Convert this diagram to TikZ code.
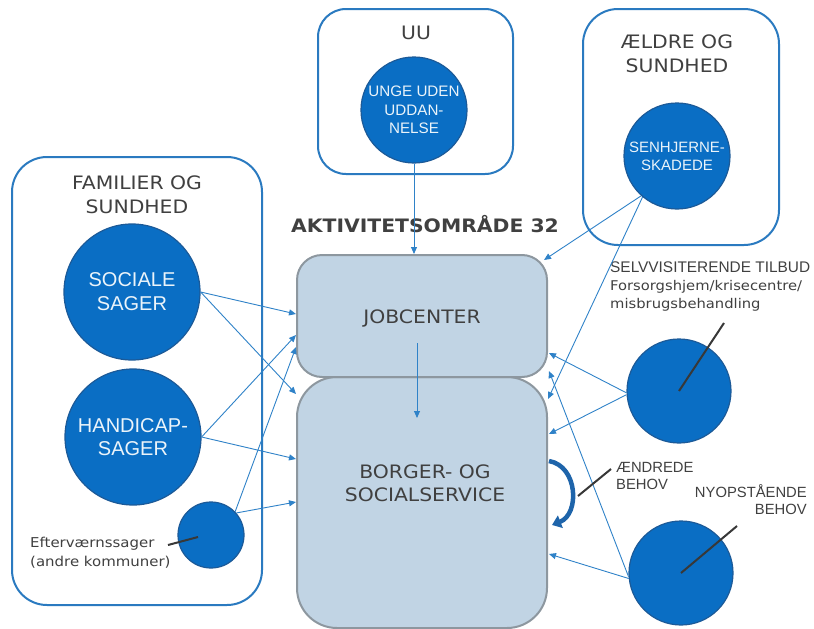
\documentclass[tikz,border=0pt]{standalone}
\usepackage{fontspec}
\setmainfont{DejaVu Sans}[FakeStretch=1.1]
\newfontfamily\arialf{Liberation Sans}
\usetikzlibrary{arrows.meta,calc}
\definecolor{circfill}{HTML}{0A6EC4}
\definecolor{circdraw}{HTML}{1C5A98}
\definecolor{grpline}{HTML}{2A7AC0}
\definecolor{arrline}{HTML}{2F82C8}
\definecolor{boxfill}{HTML}{C1D4E4}
\definecolor{boxline}{HTML}{8D979F}
\definecolor{txt}{HTML}{404040}
\definecolor{bendcol}{HTML}{1E64AA}
\begin{document}
\begin{tikzpicture}[x=1pt,y=-1pt,
 grpbox/.style={draw=grpline, line width=2pt, fill=white, inner sep=0pt, rectangle},
 circ/.style={circle, draw=circdraw, line width=1.2pt, fill=circfill, inner sep=0pt,
   text=white!92!circfill, align=center},
 unitbox/.style={rectangle, draw=boxline, line width=2pt, fill=boxfill, inner sep=0pt},
 lbl/.style={text=txt, align=center, inner sep=0pt},
 flow/.style={draw=arrline, line width=0.9pt, -{Triangle[length=7pt,width=6pt]}},
 leader/.style={draw=black!78, line width=2pt},
]
\useasboundingbox (0,0) rectangle (814,629);

% group boxes
\node[grpbox, rounded corners=35pt, minimum width=250pt, minimum height=448pt] (fam) at (137,381) {};
\node[grpbox, rounded corners=28pt, minimum width=195pt, minimum height=165pt] (uu) at (415.5,91.5) {};
\node[grpbox, rounded corners=35pt, minimum width=196pt, minimum height=236pt] (ael) at (681,127) {};

\node[lbl, font=\fontsize{18.5}{24}\selectfont] (famT) at (137,195) {FAMILIER OG\\SUNDHED};
\node[lbl, font=\fontsize{18.5}{24}\selectfont] (uuT) at (416,33) {UU};
\node[lbl, font=\fontsize{18.5}{24}\selectfont] (aelT) at (677,54) {ÆLDRE OG\\SUNDHED};

% circles
\node[circ, minimum size=136pt, font=\arialf\fontsize{20}{24}\selectfont] (soc) at (132,292) {SOCIALE\\SAGER};
\node[circ, minimum size=136pt, font=\arialf\fontsize{20}{23}\selectfont] (hand) at (133,437) {HANDICAP-\\SAGER};
\node[circ, minimum size=66pt] (eft) at (211,535) {};
\node[circ, minimum size=106pt, font=\arialf\fontsize{15.2}{18.5}\selectfont] (unge) at (414,110) {UNGE UDEN\\UDDAN-\\NELSE};
\node[circ, minimum size=106pt, font=\arialf\fontsize{15}{18}\selectfont] (senh) at (677,156) {SENHJERNE-\\SKADEDE};
\node[circ, minimum size=104pt] (selv) at (679,391) {};
\node[circ, minimum size=104pt] (nyop) at (681,573) {};

% central units
\node[unitbox, rounded corners=40pt, minimum width=250pt, minimum height=251pt] (borg) at (422,502.5) {};
\node[unitbox, rounded corners=25pt, minimum width=250pt, minimum height=122pt] (job) at (422,316) {};
\node[lbl, font=\fontsize{18.5}{23}\selectfont] (jobT) at (422,318) {JOBCENTER};
\node[lbl, font=\fontsize{18.5}{23}\selectfont] (borgT) at (425,483.5) {BORGER- OG\\SOCIALSERVICE};

\node[lbl, font=\bfseries\fontsize{18.5}{23}\selectfont] (akt) at (425,224) {AKTIVITETSOMRÅDE 32};

% labels
\node[lbl, align=left, anchor=west, font=\fontsize{13.6}{19}\selectfont] (eftT) at (30,553) {Efterværnssager\\(andre kommuner)};
\node[lbl, align=left, anchor=west, font=\fontsize{13.4}{18}\selectfont] (selvT) at (610,287)
  {{\arialf\fontsize{15.4}{18}\selectfont SELVVISITERENDE TILBUD}\\Forsorgshjem/krisecentre/\\misbrugsbehandling};
\node[lbl, align=left, anchor=west, font=\arialf\fontsize{14.8}{17}\selectfont] (aendT) at (616,475.5) {ÆNDREDE\\BEHOV};
\node[lbl, align=right, anchor=east, font=\arialf\fontsize{14.8}{17}\selectfont] (nyopT) at (807,500) {NYOPSTÅENDE\\BEHOV};

% flows into Jobcenter
\draw[flow] (soc.east) -- ($(job.north west)+(0,60)$);
\draw[flow] (hand.east) -- ($(job.north west)+(0,81)$);
\draw[flow] (eft.44) -- ($(job.north west)+(0,93)$);
\draw[flow] (unge.south) -- (unge.south |- job.north);
\draw[flow] (senh.228) -- ($(job.north east)+(-4,6)$);
\draw[flow] (selv.182) -- ($(job.north east)+(1,99)$);
\draw[flow] (nyop.184) -- ($(job.north east)+(1,117)$);
% flows into Borger- og Socialservice
\draw[flow] (soc.east) -- ($(borg.north west)+(0,18)$);
\draw[flow] (hand.east) -- ($(borg.north west)+(0,83)$);
\draw[flow] (eft.41) -- ($(borg.north west)+(0,126)$);
\draw[flow] (senh.230) -- ($(borg.north east)+(0,23)$);
\draw[flow] (selv.184) -- ($(borg.north east)+(1,58)$);
\draw[flow] (nyop.186) -- ($(borg.north east)+(1,178)$);
\draw[flow] ($(job.south)+(-5,-35)$) -- ($(borg.north)+(-5,42)$);

% changed needs loop
\coordinate (loopA) at ($(borg.north east)+(1,85)$);
\coordinate (loopB) at ($(borg.north east)+(4,149)$);
\draw[draw=bendcol, line width=4.5pt, -{Triangle[length=9pt,width=13pt]}]
  (loopA) .. controls (578,466) and (580,514) .. (loopB);

% leader lines
\draw[leader] ($(eft.center)+(-13,2)$) -- ($(eft.center)+(-43,10)$);
\draw[leader] (selv.center) -- ($(selv.center)+(45,-68)$);
\draw[leader] ($(loopA)+(29,35)$) -- ($(loopA)+(62,8)$);
\draw[leader] (nyop.center) -- ($(nyop.center)+(56,-47)$);
\end{tikzpicture}
\end{document}
